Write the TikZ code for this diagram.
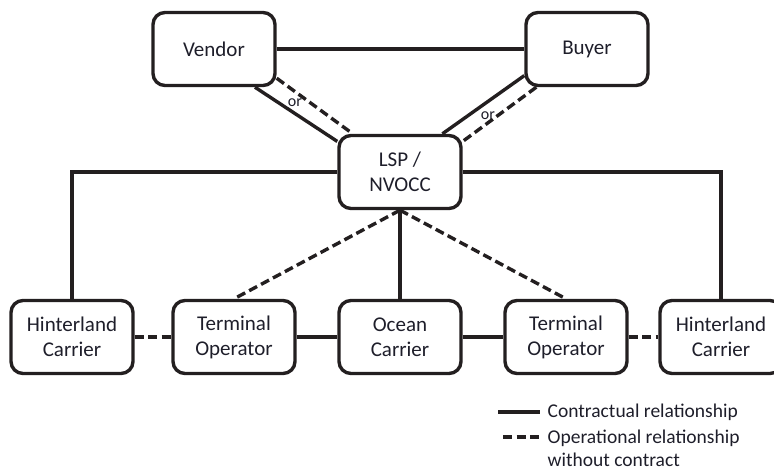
\documentclass[tikz,border=0pt]{standalone}
\usepackage{fontspec}
\setmainfont{Carlito}
\definecolor{ink}{RGB}{35,31,32}
\definecolor{inktext}{RGB}{30,30,42}
\begin{document}
\begin{tikzpicture}[x=1pt,y=-1pt,line width=3.4pt,color=ink,
    box/.style={draw,rounded corners=12pt,minimum width=122pt,minimum height=73pt,
        align=center,text=inktext,font=\fontsize{21}{25}\selectfont},
    oprel/.style={dash pattern=on 9pt off 4.5pt},
    ornote/.style={text=inktext,font=\fontsize{16}{18}\selectfont},
    legend/.style={anchor=west,align=left,inner sep=1pt,text=inktext,
        font=\fontsize{19.5}{23}\selectfont},
    ]
    \useasboundingbox (0,0) rectangle (774,471);
    % top row
    \node[box] (vendor) at (214,49) {Vendor};
    \node[box] (buyer) at (587,49) {Buyer};
    \node[box] (lsp) at (400,172) {LSP /\\NVOCC};
    % bottom row
    \path (72,337) node[box] (hinterL) {Hinterland\\Carrier}
    ++(162,0) node[box] (termL) {Terminal\\Operator}
    ++(166,0) node[box] (ocean) {Ocean\\Carrier}
    ++(166,0) node[box] (termR) {Terminal\\Operator}
    ++(155,0) node[box] (hinterR) {Hinterland\\Carrier};
    % contractual
    \draw (vendor.east)--(buyer.west);
    \draw (vendor.-43.6)--(lsp.154.2);
    \draw (buyer.203.5)--(lsp.42.2);
    \draw (lsp.west) -| (hinterL.north);
    \draw (lsp.east) -| (hinterR.north);
    \draw (lsp.south)--(ocean.north);
    \draw (termL.east)--(ocean.west);
    \draw (ocean.east)--(termR.west);
    % operational
    \draw[oprel] (vendor.-25.4)--(lsp.141.7);
    \draw[oprel] (buyer.217.6)--(lsp.26.2);
    \draw[oprel] (lsp.south)--(termL.north);
    \draw[oprel] (lsp.south)--(termR.north);
    \draw[oprel] (hinterL.east)--(termL.west);
    \draw[oprel] (termR.east)--(hinterR.west);
    \node[ornote] (orV) at (295,103) {or};
    \node[ornote] (orB) at (488,116) {or};
    % legend
    \coordinate (solidA) at (498,412);
    \coordinate (solidB) at (540,412);
    \coordinate (dashA) at (503,437);
    \coordinate (dashB) at (543,437);
    \draw (solidA)--(solidB);
    \draw[oprel] (dashA)--(dashB);
    \node[legend] (contract) at (545,412) {Contractual relationship};
    \node[legend] (operat) at (545,448.5) {Operational relationship\\without contract};
\end{tikzpicture}
\end{document}
